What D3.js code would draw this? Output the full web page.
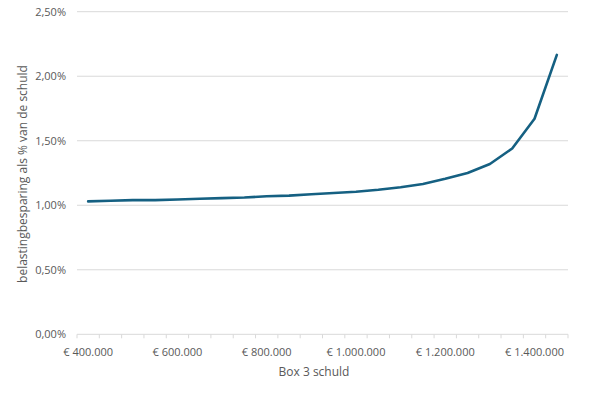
<!DOCTYPE html>
<html>
<head>
<meta charset="utf-8">
<script src="https://cdn.jsdelivr.net/npm/d3@7"></script>
<style>
  body { margin: 0; background: #fff; }
  text { font-family: "Open Sans", "Liberation Sans", sans-serif; fill: #595959; }
</style>
</head>
<body>
<svg id="chart" width="600" height="393"></svg>
<script>
// box 3 debt (categories, step 50.000)
var schuld = [400000, 450000, 500000, 550000, 600000, 650000, 700000, 750000, 800000, 850000,
              900000, 950000, 1000000, 1050000, 1100000, 1150000, 1200000, 1250000, 1300000,
              1350000, 1400000, 1450000];
// tax saving as fraction of debt
var besparing = [0.0103, 0.01035, 0.0104, 0.0104, 0.01045, 0.0105, 0.01055, 0.0106, 0.0107, 0.01075,
                 0.01085, 0.01095, 0.01105, 0.0112, 0.0114, 0.01165, 0.01205, 0.0125, 0.0132,
                 0.0144, 0.0167, 0.02165];
var yTicks = [0, 0.005, 0.01, 0.015, 0.02, 0.025];

var svg = d3.select("#chart");
var plotLeft = 77, plotRight = 568, plotTop = 11.7, plotBottom = 334.3;

var x = d3.scaleBand().domain(schuld).range([plotLeft, plotRight]).padding(0);
var y = d3.scaleLinear().domain([0, 0.025]).range([plotBottom, plotTop]);

var fmtEuro = function(v) {
  return "€ " + d3.format(",")(v).replace(/,/g, ".");
};
var fmtPct = function(v) {
  return (v * 100).toFixed(2).replace(".", ",") + "%";
};

// gridlines
svg.append("g").selectAll("line")
    .data(yTicks.slice(1))
  .enter().append("line")
    .attr("x1", plotLeft).attr("x2", plotRight)
    .attr("y1", function(d) { return y(d); })
    .attr("y2", function(d) { return y(d); })
    .attr("stroke", "#d9d9d9").attr("stroke-width", 1);

// y labels
svg.append("g").selectAll("text")
    .data(yTicks)
  .enter().append("text")
    .attr("x", 66)
    .attr("y", function(d) { return y(d); })
    .attr("dy", "0.35em")
    .attr("text-anchor", "end")
    .style("font-size", "11px")
    .text(fmtPct);

// x axis line + tick marks at category boundaries
svg.append("line")
    .attr("x1", plotLeft).attr("x2", plotRight)
    .attr("y1", plotBottom).attr("y2", plotBottom)
    .attr("stroke", "#d9d9d9").attr("stroke-width", 1);

var edges = schuld.map(function(d) { return x(d); }).concat([plotRight]);
svg.append("g").selectAll("line")
    .data(edges)
  .enter().append("line")
    .attr("x1", function(d) { return d; }).attr("x2", function(d) { return d; })
    .attr("y1", plotBottom).attr("y2", plotBottom + 4)
    .attr("stroke", "#d9d9d9").attr("stroke-width", 1);

// x labels every 4th category
svg.append("g").selectAll("text")
    .data(schuld.filter(function(d, i) { return i % 4 === 0; }))
  .enter().append("text")
    .attr("x", function(d) { return x(d) + x.bandwidth() / 2; })
    .attr("y", 352)
    .attr("dy", "0.35em")
    .attr("text-anchor", "middle")
    .style("font-size", "11px")
    .text(fmtEuro);

// line
var line = d3.line()
    .x(function(d, i) { return x(schuld[i]) + x.bandwidth() / 2; })
    .y(function(d) { return y(d); });

svg.append("path")
    .datum(besparing)
    .attr("d", line)
    .attr("fill", "none")
    .attr("stroke", "#156082")
    .attr("stroke-width", 2.6)
    .attr("stroke-linejoin", "round")
    .attr("stroke-linecap", "round");

// axis titles
svg.append("text")
    .attr("x", 314).attr("y", 372)
    .attr("dy", "0.35em")
    .attr("text-anchor", "middle")
    .style("font-size", "12px")
    .text("Box 3 schuld");

svg.append("text")
    .attr("transform", "translate(23,174) rotate(-90)")
    .attr("dy", "0.35em")
    .attr("text-anchor", "middle")
    .style("font-size", "12px")
    .text("belastingbesparing als % van de schuld");
</script>
</body>
</html>
